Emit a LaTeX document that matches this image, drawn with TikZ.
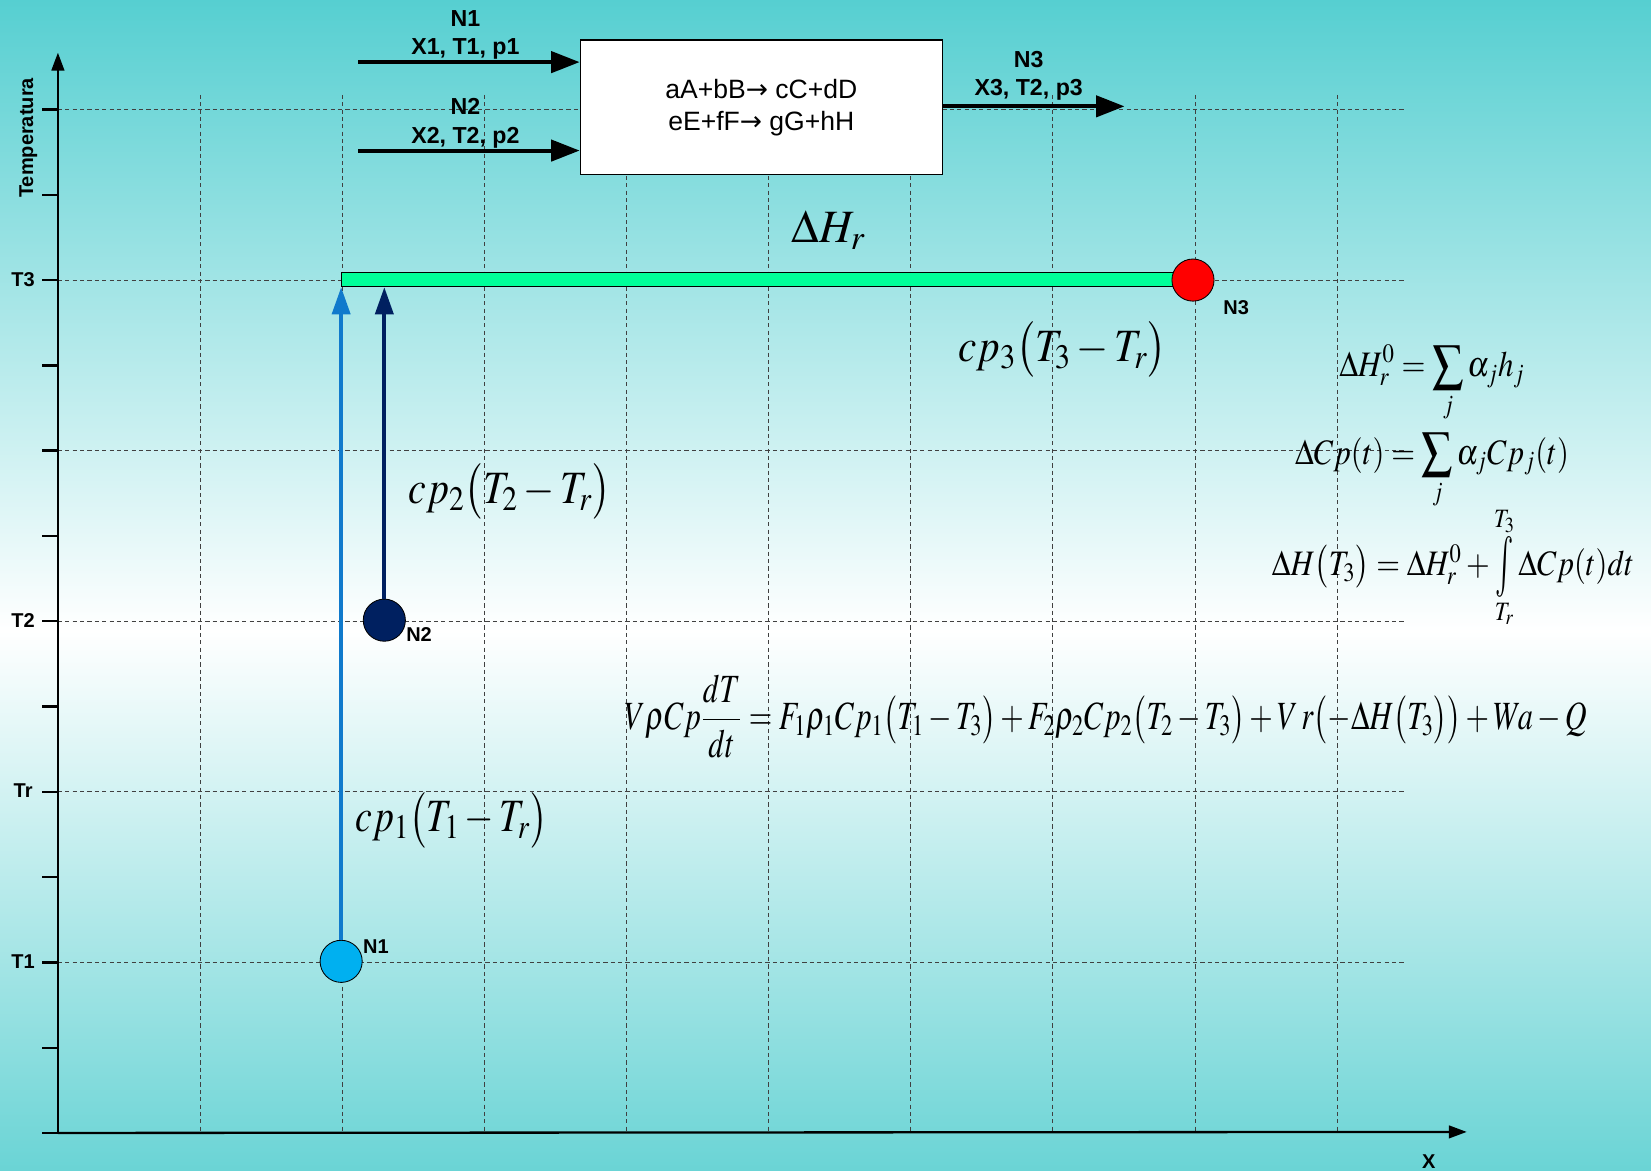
\documentclass[tikz,border=0pt]{standalone}
\usepackage{mathptmx}
\usepackage[no-math]{fontspec}
\setmainfont{Liberation Sans}
\newfontfamily\arrowfont{DejaVu Sans}
\usepackage{graphicx}
\usetikzlibrary{arrows.meta}
\definecolor{bgtop}{RGB}{86,207,209}
\definecolor{bgbot}{RGB}{106,212,213}
\definecolor{barg}{RGB}{0,255,153}
\definecolor{lblue}{RGB}{16,122,204}
\definecolor{navyc}{RGB}{0,32,96}
\definecolor{cyanball}{RGB}{0,176,240}
\newcommand{\tallint}{\mathop{\vcenter{\hbox{\scalebox{1}[1.7]{$\textstyle\int$}}}}\limits}
\tikzset{
 gridln/.style={draw=black!75, line width=0.5pt, dash pattern=on 2pt off 1.5pt},
 axisln/.style={line width=1.1pt, -{Triangle[length=8.5pt,width=6pt]}},
 tickln/.style={line width=1.1pt},
 lbl/.style={font=\bfseries\fontsize{9.5}{11}\selectfont, inner sep=0pt},
 flow/.style={line width=1.9pt, -{Triangle[length=13.5pt,width=10pt]}},
 flowlbl/.style={font=\bfseries\fontsize{11}{13}\selectfont, anchor=base, inner sep=0pt},
 ball/.style={circle, draw=black, line width=0.4pt, minimum size=20pt, inner sep=0pt},
 rise/.style={line width=2pt, -{Triangle[length=13pt,width=8.5pt]}},
 bigm/.style={font=\fontsize{22}{26}\selectfont, anchor=base, inner sep=0pt},
 midm/.style={font=\fontsize{17}{20}\selectfont, anchor=base, inner sep=0pt},
 eqm/.style={font=\fontsize{19}{22}\selectfont, anchor=base, inner sep=0pt},
}
\begin{document}
\begin{tikzpicture}[x=0.5pt,y=-0.5pt]
\useasboundingbox (0,0) rectangle (1568,1112);
\fill[top color=bgtop, bottom color=white] (0,0) rectangle (1568,600);
\fill[top color=white, bottom color=bgbot] (0,599) rectangle (1568,1112);
% grid
\foreach \y in {104,266,428,590,752,914} \draw[gridln] (55,\y) -- (1335,\y);
\foreach \x in {190,325,...,1270} \draw[gridln] (\x,90) -- (\x,1075);
\foreach \y in {104,185,...,1076} \draw[tickln] (40,\y) -- (55,\y);
% axes
\coordinate (o) at (55,1076);
\coordinate (ytop) at (55,50);
\coordinate (xend) at (1393,1075);
\draw[axisln] (o) -- (ytop);
\draw[axisln] (o) -- (xend);
\node[lbl, rotate=90] (ylab) at (27,131) {Temperatura};
\node[lbl] (t3) at (22,266) {T3};
\node[lbl] (t2) at (22,589) {T2};
\node[lbl] (tr) at (22,751) {Tr};
\node[lbl] (t1) at (22,913) {T1};
\node[lbl] (xl) at (1357,1103) {X};
% reactor
\node[draw=black, line width=0.5pt, fill=white, minimum width=172pt, minimum height=64pt,
      align=center, font=\fontsize{12.6}{15}\selectfont] (reactor) at (723,102)
      {aA+bB{\arrowfont →} cC+dD\\eE+fF{\arrowfont →} gG+hH};
\coordinate (in1) at (340,59);
\coordinate (in2) at (340,143);
\coordinate (out3) at (1068,101);
\draw[flow] (in1) -- (in1 -| reactor.west);
\draw[flow] (in2) -- (in2 -| reactor.west);
\draw[flow] (reactor.east |- out3) -- (out3);
\node[flowlbl] (l1a) at (442,25) {N1};
\node[flowlbl] (l1b) at (442,52) {X1, T1, p1};
\node[flowlbl] (l2a) at (442,109) {N2};
\node[flowlbl] (l2b) at (442,136) {X2, T2, p2};
\node[flowlbl] (l3a) at (977,64) {N3};
\node[flowlbl] (l3b) at (977,91) {X3, T2, p3};
% bar and balls
\node[draw=black, line width=0.6pt, fill=barg, minimum width=404.5pt, minimum height=6.5pt, inner sep=0pt] (bar) at (728.5,265.5) {};
\node[ball, fill=cyanball] (n1) at (324,913) {};
\node[ball, fill=navyc] (n2) at (365,589) {};
\node[ball, fill=red] (n3) at (1133,266) {};
\draw[rise, lblue] (n1) -- (n1 |- bar.south);
\draw[rise, navyc] (n2) -- (n2 |- bar.south);
\node[lbl] (n1l) at (357,899) {N1};
\node[lbl] (n2l) at (398,603) {N2};
\node[lbl] (n3l) at (1174,292) {N3};
% formulas
\node[bigm] (dhr) at (787,230) {\resizebox{35pt}{\height}{$\Delta H_r$}};
\node[bigm] (cp3) at (1009,343) {\resizebox{99pt}{\height}{$cp_3\bigl(T_3-T_r\bigr)$}};
\node[bigm] (cp2) at (484,478) {\resizebox{96pt}{\height}{$cp_2\bigl(T_2-T_r\bigr)$}};
\node[bigm] (cp1) at (429,790) {\resizebox{91pt}{\height}{$cp_1\bigl(T_1-T_r\bigr)$}};
\node[midm] (eq1) at (1360,358) {\resizebox{88pt}{\height}{$\displaystyle \Delta H_r^0=\sum_j\alpha_j h_j$}};
\node[midm] (eq2) at (1360,441) {\resizebox{130pt}{\height}{$\displaystyle \Delta Cp(t)=\sum_j\alpha_j Cp_j(t)$}};
\node[midm] (eq3) at (1380,547) {\resizebox{172pt}{\height}{$\Delta H\bigl(T_3\bigr)=\Delta H_r^0+\tallint_{T_r}^{T_3}\Delta Cp(t)dt$}};
\node[eqm] (eq4) at (1050,693) {\resizebox{457pt}{\height}{$\displaystyle V\rho Cp\frac{dT}{dt}=F_1\rho_1Cp_1\bigl(T_1-T_3\bigr)+F_2\rho_2Cp_2\bigl(T_2-T_3\bigr)+V\,r\bigl(-\Delta H\bigl(T_3\bigr)\bigr)+Wa-Q$}};
\end{tikzpicture}
\end{document}
